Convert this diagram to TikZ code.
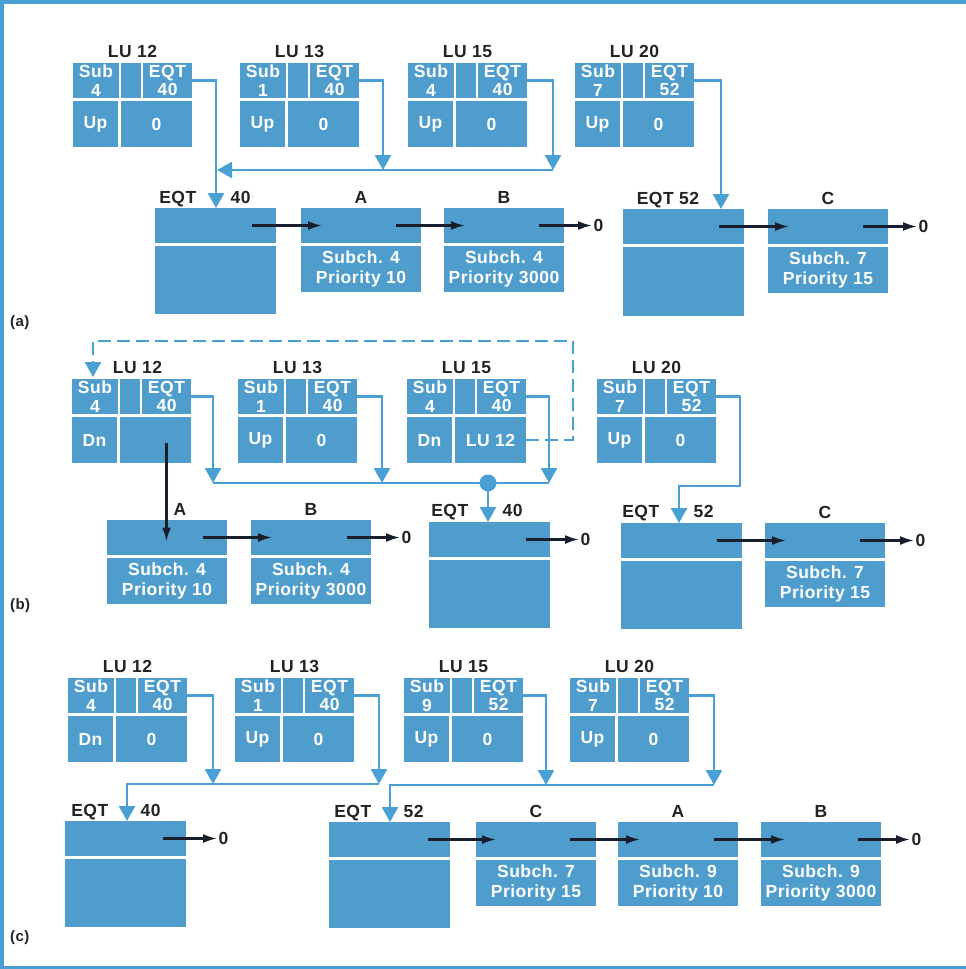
\documentclass[tikz,border=0pt]{standalone}
\usepackage{fontspec}
\setmainfont{Liberation Sans}[LetterSpace=3]
\usetikzlibrary{arrows.meta,calc}
\definecolor{boxblue}{RGB}{79,157,204}
\definecolor{lineblue}{RGB}{72,160,212}
\definecolor{txtdark}{RGB}{35,35,35}
\definecolor{arrdark}{RGB}{25,30,45}
\newcommand\fnt{\fontsize{17.5}{18.5}\selectfont\bfseries}
\newcommand\fntb{\fontsize{17.5}{20}\selectfont\bfseries}
\newcommand\lurec[9]{%
\node[cell,minimum width=46pt,minimum height=35pt] (#1sub) at (#2,#3) {Sub\\#5};
\node[cell,minimum width=20pt,minimum height=35pt] (#1mid) at (#2+48,#3) {};
\node[cell,minimum width=49pt,minimum height=35pt] (#1eqt) at (#2+70,#3) {EQT\\#6};
\node[cell,minimum width=45pt,minimum height=46pt] (#1dir) at (#2,#3+38) {#7};
\node[cell,minimum width=71pt,minimum height=46pt] (#1ptr) at (#2+48,#3+38) {#8};
\node[lulab] (#1lab) at (#2+59.5+#9,#3-6) {LU #4};
}
\newcommand\entrybox[7]{%
\node[cell,minimum width=120pt,minimum height=35pt] (#1t) at (#2,#3) {};
\node[cell,minimum width=120pt,minimum height=46pt,font=\fntb] (#1b) at (#2,#3+38) {Subch. #5\\Priority #6};
\node[lab,anchor=base] (#1l) at (#2+60+#7,#3-5) {#4};
}
\newcommand\headbox[4]{%
\node[cell,minimum width=121pt,minimum height=35pt] (#1t) at (#2,#3) {};
\node[cell,minimum width=121pt,minimum height=#4pt] (#1b) at (#2,#3+38) {};
}
\begin{document}
\begin{tikzpicture}[x=1pt,y=-1pt,
  cell/.style={fill=boxblue,text=white,inner sep=0pt,outer sep=0pt,anchor=north west,font=\fnt,align=center},
  lulab/.style={text=txtdark,font=\fnt,inner sep=0pt,anchor=base},
  lab/.style={text=txtdark,font=\fnt,inner sep=1.5pt},
  plab/.style={text=txtdark,font=\fontsize{15}{16}\selectfont\bfseries,inner sep=0pt,anchor=west},
  bline/.style={draw=lineblue,line width=2.5pt},
  barrow/.style={draw=lineblue,line width=2.5pt,-{Triangle[length=15pt,width=16pt]}},
  bdash/.style={draw=lineblue,line width=2.5pt,dash pattern=on 13pt off 6pt,-{Triangle[length=15pt,width=16pt]}},
  blk/.style={draw=arrdark,line width=2.2pt,-{Latex[length=14pt,width=9pt]}},
  dot/.style={circle,fill=lineblue,minimum size=17pt,inner sep=0pt},
  frame/.style={draw=lineblue,line width=3.5pt}]
\useasboundingbox (0,0) rectangle (966,969);
\draw[frame] (966,1.75) -- (1.75,1.75) -- (1.75,967.25) -- (966,967.25);

%% ---------------- (a)
\lurec{aL12}{73}{63}{12}{4}{40}{Up}{0}{0}
\lurec{aL13}{240}{63}{13}{1}{40}{Up}{0}{0}
\lurec{aL15}{408}{63}{15}{4}{40}{Up}{0}{0}
\lurec{aL20}{575}{63}{20}{7}{52}{Up}{0}{0}
\headbox{aH40}{155}{208}{68}
\entrybox{aA}{301}{208}{A}{4}{10}{0}
\entrybox{aB}{444}{208}{B}{4}{3000}{0}
\headbox{aH52}{623}{209}{69}
\entrybox{aC}{768}{209}{C}{7}{15}{0}
\node[lab,anchor=base east] (aH40e) at (198,203) {EQT};
\node[lab,anchor=base west] (aH40n) at (229,203) {40};
\node[lab,anchor=base] (aH52e) at (668,204) {EQT 52};
\coordinate (aH40arr) at (216,208);
\coordinate (aBus12) at (217,170);
\coordinate (aBus13) at (383,170);
\coordinate (aBus15) at (553,170);
\coordinate (aH52arr) at (721,209);
\draw[barrow] (aL12eqt.east) -| (aH40arr);
\draw[barrow] (aL13eqt.east) -| (aBus13);
\draw[barrow] (aL15eqt.east) -| (aBus15);
\draw[barrow] (aBus15) -- (aBus12);
\draw[barrow] (aL20eqt.east) -| (aH52arr);
\draw[blk] ([xshift=-24pt]aH40t.east) -- ([xshift=21pt]aAt.west);
\draw[blk] ([xshift=-25pt]aAt.east) -- ([xshift=21pt]aBt.west);
\node[lab,anchor=west] (aB0) at ([xshift=28pt]aBt.east) {0};
\draw[blk] ([xshift=-25pt]aBt.east) -- (aB0.west);
\draw[blk] ([xshift=-25pt]aH52t.east) -- ([xshift=21pt]aCt.west);
\node[lab,anchor=west] (aC0) at ([xshift=29pt]aCt.east) {0};
\draw[blk] ([xshift=-25pt]aCt.east) -- (aC0.west);
\node[plab] (pa) at (10,323) {(a)};

%% ---------------- (b)
\lurec{bL12}{72}{379}{12}{4}{40}{Dn}{}{6}
\lurec{bL13}{238}{379}{13}{1}{40}{Up}{0}{0}
\lurec{bL15}{407}{379}{15}{4}{40}{Dn}{LU 12}{0}
\lurec{bL20}{597}{379}{20}{7}{52}{Up}{0}{0}
\entrybox{bA}{107}{520}{A}{4}{10}{13}
\entrybox{bB}{251}{520}{B}{4}{3000}{0}
\headbox{bH40}{429}{522}{68}
\headbox{bH52}{621}{523}{68}
\entrybox{bC}{765}{523}{C}{7}{15}{0}
\node[lab,anchor=base east] (bH40e) at (470,516) {EQT};
\node[lab,anchor=base west] (bH40n) at (501,516) {40};
\node[lab,anchor=base east] (bH52e) at (661,517) {EQT};
\node[lab,anchor=base west] (bH52n) at (692,517) {52};
\coordinate (bBus12) at (213,483);
\coordinate (bBus13) at (382,483);
\coordinate (bBus15) at (549,483);
\coordinate (bH40arr) at (488,522);
\coordinate (bH52arr) at (679,523);
\coordinate (bR20) at (740,486);
\draw[barrow] (bL12eqt.east) -| (bBus12);
\draw[barrow] (bL13eqt.east) -| (bBus13);
\draw[barrow] (bL15eqt.east) -| (bBus15);
\draw[bline] (bBus12) -- (bBus15);
\node[dot] (bDot) at (488,483) {};
\draw[barrow] (bDot.center) -- (bH40arr);
\draw[barrow] (bL20eqt.east) -| (bR20) -| (bH52arr);
\coordinate (bDa) at (573,440);
\coordinate (bDb) at (573,341);
\coordinate (bDc) at (93,341);
\draw[bdash] (bL15ptr.east) -- (bDa) -- (bDb) -- (bDc) -- ([shift={(21pt,2pt)}]bL12sub.north west);
\coordinate (bPs) at ([xshift=11pt,yshift=-3pt]bL12ptr.center);
\coordinate (bAin) at ([yshift=-4pt]bAt.center);
\draw[blk] (bPs) -- (bPs |- bAin);
\draw[blk] ([xshift=-24pt]bAt.east) -- ([xshift=21pt]bBt.west);
\node[lab,anchor=west] (bB0) at ([xshift=29pt]bBt.east) {0};
\draw[blk] ([xshift=-24pt]bBt.east) -- (bB0.west);
\node[lab,anchor=west] (bH0) at ([xshift=29pt]bH40t.east) {0};
\draw[blk] ([xshift=-24pt]bH40t.east) -- (bH0.west);
\draw[blk] ([xshift=-25pt]bH52t.east) -- ([xshift=21pt]bCt.west);
\node[lab,anchor=west] (bC0) at ([xshift=29pt]bCt.east) {0};
\draw[blk] ([xshift=-25pt]bCt.east) -- (bC0.west);
\node[plab] (pb) at (10,606) {(b)};

%% ---------------- (c)
\lurec{cL12}{68}{678}{12}{4}{40}{Dn}{0}{0}
\lurec{cL13}{235}{678}{13}{1}{40}{Up}{0}{0}
\lurec{cL15}{404}{678}{15}{9}{52}{Up}{0}{0}
\lurec{cL20}{570}{678}{20}{7}{52}{Up}{0}{0}
\headbox{cH40}{65}{821}{68}
\headbox{cH52}{329}{822}{68}
\entrybox{cC}{476}{822}{C}{7}{15}{0}
\entrybox{cA}{618}{822}{A}{9}{10}{0}
\entrybox{cB}{761}{822}{B}{9}{3000}{0}
\node[lab,anchor=base east] (cH40e) at (110,816) {EQT};
\node[lab,anchor=base west] (cH40n) at (139,816) {40};
\node[lab,anchor=base east] (cH52e) at (373,817) {EQT};
\node[lab,anchor=base west] (cH52n) at (402,817) {52};
\coordinate (cBus12) at (213,784);
\coordinate (cBus13) at (379,784);
\coordinate (cBus15) at (546,785);
\coordinate (cBus20) at (714,785);
\coordinate (cH40arr) at (127,821);
\coordinate (cH52arr) at (390,822);
\draw[barrow] (cL12eqt.east) -| (cBus12);
\draw[barrow] (cL13eqt.east) -| (cBus13);
\draw[barrow] (cBus13) -| (cH40arr);
\draw[barrow] (cL15eqt.east) -| (cBus15);
\draw[barrow] (cL20eqt.east) -| (cBus20);
\draw[barrow] (cBus20) -| (cH52arr);
\node[lab,anchor=west] (cH0) at ([xshift=31pt]cH40t.east) {0};
\draw[blk] ([xshift=-23pt]cH40t.east) -- (cH0.west);
\draw[blk] ([xshift=-22pt]cH52t.east) -- ([xshift=20pt]cCt.west);
\draw[blk] ([xshift=-26pt]cCt.east) -- ([xshift=22pt]cAt.west);
\draw[blk] ([xshift=-24pt]cAt.east) -- ([xshift=24pt]cBt.west);
\node[lab,anchor=west] (cB0) at ([xshift=29pt]cBt.east) {0};
\draw[blk] ([xshift=-23pt]cBt.east) -- (cB0.west);
\node[plab] (pc) at (10,938) {(c)};
\end{tikzpicture}
\end{document}
